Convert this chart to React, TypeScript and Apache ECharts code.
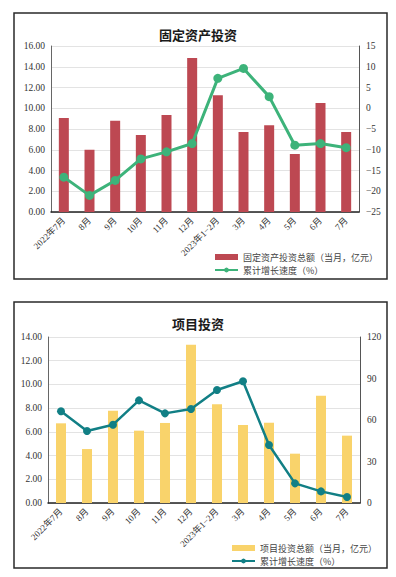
import React, { useEffect, useRef } from "react";
import * as echarts from "echarts";

const categories = ["2022年7月", "8月", "9月", "10月", "11月", "12月", "2023年1−2月", "3月", "4月", "5月", "6月", "7月"];

const fixedInvestAmount = [9.05, 6.0, 8.8, 7.42, 9.35, 14.84, 11.25, 7.71, 8.35, 5.59, 10.5, 7.71];
const fixedInvestGrowth = [-16.6, -21.0, -17.4, -12.2, -10.5, -8.5, 7.2, 9.6, 2.8, -8.9, -8.5, -9.5];

const projectInvestAmount = [6.72, 4.55, 7.79, 6.1, 6.75, 13.35, 8.32, 6.58, 6.77, 4.16, 9.05, 5.68];
const projectInvestGrowth = [66.3, 52.1, 56.6, 74.2, 64.8, 68.0, 81.7, 88.0, 41.9, 14.2, 8.4, 4.3];

const FONT = "'Liberation Serif', 'Noto Sans CJK SC', serif";
const CJK = "'Noto Sans CJK SC', sans-serif";

function makeOption(cfg: any) {
  const fmtMinus = (v: number) => String(v).replace("-", "−");
  return {
    animation: false,
    textStyle: { fontFamily: FONT },
    graphic: [
      {
        type: "rect",
        shape: { x: 14, y: cfg.boxTop, width: 373, height: 266 },
        style: { fill: "none", stroke: "#2a2a2a", lineWidth: 1.5 },
        silent: true,
      },
    ],
    title: {
      text: cfg.title,
      left: "center",
      top: cfg.titleTop,
      textStyle: { fontFamily: CJK, fontSize: 13, fontWeight: "bold", color: "#1a1a1a" },
    },
    legend: {
      orient: "vertical",
      left: cfg.legendLeft,
      top: cfg.legendTop,
      itemGap: 3,
      itemWidth: 23,
      itemHeight: 6,
      textStyle: { fontFamily: CJK, fontSize: 9, lineHeight: 10, color: "#444" },
      data: [
        { name: cfg.barName, icon: "rect" },
        { name: cfg.lineName },
      ],
    },
    grid: { left: cfg.gridLeft, top: cfg.gridTop, width: cfg.gridWidth, height: 166 },
    xAxis: {
      type: "category",
      data: categories,
      axisLine: { lineStyle: { color: "#222", width: 1.5 } },
      axisTick: { show: false },
      axisLabel: { rotate: 45, fontSize: 9, color: "#333", margin: 7, interval: 0, fontFamily: FONT },
    },
    yAxis: [
      {
        type: "value",
        min: 0,
        max: cfg.leftMax,
        interval: 2,
        axisLine: { show: true, lineStyle: { color: "#666", width: 1 } },
        axisTick: { show: false },
        axisLabel: { formatter: (v: number) => v.toFixed(2), fontSize: 9.5, color: "#333", margin: 6 },
        splitLine: { lineStyle: { color: "#e3e3e3", width: 1.2 } },
      },
      {
        type: "value",
        min: cfg.rightMin,
        max: cfg.rightMax,
        interval: cfg.rightInterval,
        axisLine: { show: true, lineStyle: { color: "#555", width: 1 } },
        axisTick: { show: false },
        axisLabel: { formatter: fmtMinus, fontSize: 9.5, color: "#333", margin: 7 },
        splitLine: { show: false },
      },
    ],
    series: [
      {
        name: cfg.barName,
        type: "bar",
        data: cfg.barData,
        barWidth: 10,
        itemStyle: { color: cfg.barColor },
        yAxisIndex: 0,
      },
      {
        name: cfg.lineName,
        type: "line",
        data: cfg.lineData,
        yAxisIndex: 1,
        symbol: "circle",
        symbolSize: cfg.symbolSize,
        lineStyle: { color: cfg.lineColor, width: cfg.lineWidth },
        itemStyle: { color: cfg.lineColor },
      },
    ],
  };
}

function ChartBox(props: { top: number; height: number; cfg: any }) {
  const ref = useRef<HTMLDivElement>(null);
  useEffect(() => {
    if (!ref.current) return;
    const chart = echarts.init(ref.current, null, { renderer: "svg" });
    chart.setOption(makeOption(props.cfg));
    return () => chart.dispose();
  }, []);
  return (
    <div
      ref={ref}
      style={{ position: "absolute", left: 0, top: props.top, width: 396, height: props.height }}
    />
  );
}

export default function App() {
  const cfgA = {
    title: "固定资产投资",
    titleTop: 23,
    boxTop: 13,
    gridLeft: 51,
    gridTop: 46,
    gridWidth: 308,
    leftMax: 16,
    rightMin: -25,
    rightMax: 15,
    rightInterval: 5,
    barName: "固定资产投资总额（当月，亿元）",
    lineName: "累计增长速度（%）",
    barData: fixedInvestAmount,
    lineData: fixedInvestGrowth,
    barColor: "#BD4852",
    lineColor: "#3DB37A",
    lineWidth: 3,
    symbolSize: 9,
    legendLeft: 209,
    legendTop: 247,
  };
  const cfgB = {
    title: "项目投资",
    titleTop: 22,
    boxTop: 12,
    gridLeft: 48,
    gridTop: 47,
    gridWidth: 312,
    leftMax: 14,
    rightMin: 0,
    rightMax: 120,
    rightInterval: 30,
    barName: "项目投资总额（当月，亿元）",
    lineName: "累计增长速度（%）",
    barData: projectInvestAmount,
    lineData: projectInvestGrowth,
    barColor: "#F9D36B",
    lineColor: "#117F85",
    lineWidth: 2.5,
    symbolSize: 8,
    legendLeft: 226,
    legendTop: 248,
  };
  return (
    <div style={{ position: "absolute", left: 0, top: 0, width: 396, height: 577, background: "#fff" }}>
      <ChartBox top={0} height={290} cfg={cfgA} />
      <ChartBox top={290} height={287} cfg={cfgB} />
    </div>
  );
}
